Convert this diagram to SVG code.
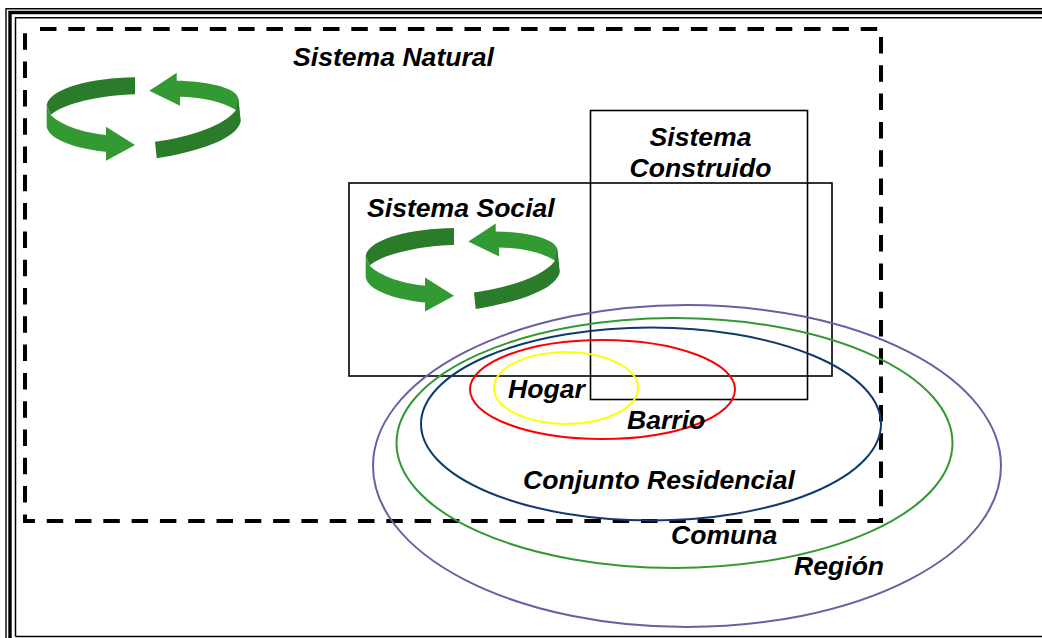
<svg xmlns="http://www.w3.org/2000/svg" width="1042" height="638" viewBox="0 0 1042 638">
<style>
text{font-family:"Liberation Sans",Arial,sans-serif;font-weight:bold;font-style:italic;font-size:26.6px;fill:#000}
.box{fill:none;stroke:#000;stroke-width:1.6}
.e{fill:none;stroke-width:2}
.l{fill:#339933}
.d{fill:#2a7b2a}
</style>
<defs>
<g id="cycle">
<path class="d" d="M135,77.3C92,78 50,88 46.700,105L50.700,115C62,104 100,95 135,94.300Z"/>
<path class="l" d="M46.700,105L50.700,115C62,126 85,133 106,135L106,126.700L135,145L106,160.700L106,151.700C78,149 49,140 46.700,126.700Z"/>
<path class="l" d="M149.300,90.700L176.700,72.700L176.700,80.700C205,81 236,87 238.300,98.300L240.700,121.700L236,110C222,101 200,97 180,96.700L180,105.700Z"/>
<path class="d" d="M155,141.700C190,137 224,126 236,110L238.300,98.300L240.700,121.700C236,140 195,152 156.700,158.300Z"/>
</g>
</defs>
<rect width="1042" height="638" fill="#fff"/>
<g id="frame" fill="none" stroke="#000">
<path d="M6,640V8.800H1042" stroke-width="1.4"/>
<path d="M10,640V12.500H1042" stroke-width="3.400"/>
<path d="M15.500,636.500V17.800H1042M15.500,636.500H1042" stroke-width="1.500"/>
</g>
<g id="sistema-natural">
<path d="M40,29H881V521H25V29" fill="none" stroke="#000" stroke-width="4" stroke-dasharray="16.500 11.800"/>
<text x="293" y="66">Sistema Natural</text>
<use href="#cycle"/>
</g>
<g id="sistema-social">
<rect class="box" x="349" y="183" width="483" height="193"/>
<text x="367" y="217">Sistema Social</text>
<use href="#cycle" x="319" y="150.700"/>
</g>
<g id="sistema-construido">
<rect class="box" x="590.500" y="110.500" width="217" height="289"/>
<text x="700.500" y="146" text-anchor="middle">Sistema</text>
<text x="700.500" y="177" text-anchor="middle">Construido</text>
</g>
<g id="region">
<ellipse class="e" cx="687" cy="466" rx="314" ry="161" stroke="#6a5fa0"/>
<text x="794" y="575">Región</text>
</g>
<g id="comuna">
<ellipse class="e" cx="674.500" cy="443" rx="278" ry="125" stroke="#339933"/>
<text x="671" y="544">Comuna</text>
</g>
<g id="conjunto">
<ellipse class="e" cx="651" cy="424" rx="230" ry="96.500" stroke="#0f3a6e"/>
<text x="523" y="489">Conjunto Residencial</text>
</g>
<g id="barrio">
<ellipse class="e" cx="602.500" cy="389.500" rx="132.500" ry="49.500" stroke="#ff0000"/>
<text x="627" y="429">Barrio</text>
</g>
<g id="hogar">
<ellipse class="e" cx="566" cy="388" rx="72" ry="36" stroke="#ffff00"/>
<text x="508" y="398">Hogar</text>
</g>
<g id="connectors"/>
</svg>
